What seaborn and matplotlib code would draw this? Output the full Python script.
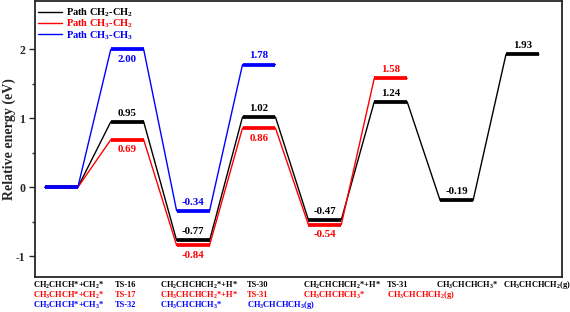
import matplotlib
matplotlib.use("Agg")
import matplotlib.pyplot as plt
import seaborn as sns
import pandas as pd
import numpy as np

sns.set_theme(style="ticks")
plt.rcParams['font.family'] = ['Liberation Serif', 'DejaVu Serif']
plt.rcParams['font.weight'] = 'bold'
plt.rcParams['mathtext.fontset'] = 'custom'
plt.rcParams['mathtext.rm'] = 'Liberation Serif:bold'
plt.rcParams['mathtext.it'] = 'Liberation Serif:bold'
plt.rcParams['mathtext.bf'] = 'Liberation Serif:bold'

# Data
black_E = [0, 0.95, -0.77, 1.02, -0.47, 1.24, -0.19, 1.93]
red_E = [0, 0.69, -0.84, 0.86, -0.54, 1.58]
blue_E = [0, 2.00, -0.34, 1.78]
series_names = ["Path CH$_2$-CH$_2$", "Path CH$_3$-CH$_2$", "Path CH$_3$-CH$_3$"]
colors = ["#000000", "#ff0000", "#0000ff"]
# label placement: +1 above, -1 below
black_pos = [0, 1, 1, 1, 1, 1, 1, 1]
red_pos = [0, -1, -1, -1, -1, 1]
blue_pos = [0, -1, 1, 1]

row_black = ["CH$_2$CHCH*+CH$_2$*", "TS-16", "CH$_2$CHCHCH$_2$*+H*", "TS-30",
             "CH$_2$CHCHCH$_2$*+H*", "TS-31", "CH$_3$CHCHCH$_3$*", "CH$_3$CHCHCH$_2$(g)"]
row_red = ["CH$_3$CHCH*+CH$_2$*", "TS-17", "CH$_3$CHCHCH$_2$*+H*", "TS-31",
           "CH$_3$CHCHCH$_3$*", "CH$_3$CHCHCH$_2$(g)"]
row_blue = ["CH$_3$CHCH*+CH$_3$*", "TS-32", "CH$_3$CHCHCH$_3$*", "CH$_3$CHCHCH$_3$(g)"]

fig = plt.figure(figsize=(5.7, 3.12), dpi=100)
ax = fig.add_axes([35/570, 1-277/312, (562-35)/570, 276.5/312])

all_E = [black_E, red_E, blue_E]
all_pos = [black_pos, red_pos, blue_pos]

rows = []
for name, E in zip(series_names, all_E):
    for i, e in enumerate(E):
        rows.append({"x": 2*i, "E": e, "path": name})
        rows.append({"x": 2*i+1, "E": e, "path": name})
df = pd.DataFrame(rows)

sns.lineplot(data=df, x="x", y="E", hue="path", palette=colors, sort=False,
             estimator=None, lw=1.0, ax=ax, legend=True)

for k, (name, E, pos, c) in enumerate(zip(series_names, all_E, all_pos, colors)):
    for i, e in enumerate(E):
        ax.hlines(e, 2*i, 2*i+1, color=c, lw=2.7, zorder=3+k)
        if pos[i] != 0:
            if pos[i] > 0:
                ax.annotate(f"{e:.2f}", (2*i+0.5, e), xytext=(0, 3), textcoords="offset points",
                            ha="center", va="bottom", fontsize=7.8, color=c, fontweight="bold")
            else:
                ax.annotate(f"{e:.2f}", (2*i+0.5, e), xytext=(0, -4), textcoords="offset points",
                            ha="center", va="top", fontsize=7.8, color=c, fontweight="bold")

ax.set_xlim(-0.3, 15.7)
ax.set_ylim(-1.30, 2.71)
ax.set_yticks([-1, 0, 1, 2])
ax.set_yticklabels(["-1", "0", "1", "2"], fontweight="bold", fontsize=8.5)
ax.set_yticks([-0.5, 0.5, 1.5], minor=True)
ax.tick_params(axis="y", which="major", length=4, width=1, pad=3)
ax.tick_params(axis="y", which="minor", length=2, width=1)
ax.set_xticks([])
ax.set_xlabel("")
ax.set_ylabel("Relative energy (eV)", fontsize=10, fontweight="bold")
ax.yaxis.set_label_coords(-0.036, 0.5)
for s in ax.spines.values():
    s.set_linewidth(1.3)

# legend
handles, labels = ax.get_legend_handles_labels()
leg = ax.legend(handles, labels, loc="upper left", frameon=False, fontsize=7.5,
                handlelength=2.3, handletextpad=0.4, borderaxespad=0.1, labelspacing=-0.12,
                borderpad=0.2, bbox_to_anchor=(0.0, 1.0 - 3/276))
for t, c in zip(leg.get_texts(), colors):
    t.set_color(c)
    t.set_fontweight("bold")
for l in leg.get_lines():
    l.set_linewidth(1.0)

# bottom labels
xs_px = [33, 115, 160, 247, 303, 387, 436, 503]
row_y = [285, 295, 305]
for r, (row, c) in enumerate(zip([row_black, row_red, row_blue], colors)):
    for j, txt in enumerate(row):
        fig.text(xs_px[j]/570, 1-row_y[r]/312, txt, color=c, fontsize=6,
                 fontweight="bold", ha="left", va="center")

fig.savefig("out.png", dpi=100)
